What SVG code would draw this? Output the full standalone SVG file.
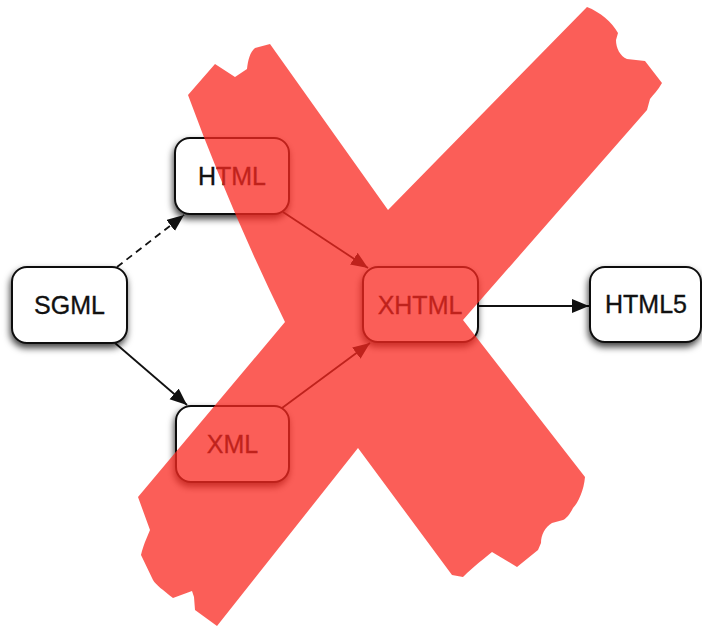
<svg xmlns="http://www.w3.org/2000/svg" width="702" height="626" viewBox="0 0 702 626">
  <style>
    .box { fill: #ffffff; stroke: #111111; stroke-width: 2; filter: url(#shadow); }
    .label { font-family: "Liberation Sans", Arial, sans-serif; font-size: 25px; fill: #111111; stroke: #111111; stroke-width: 0.35; text-anchor: middle; }
    .edge { stroke: #111111; stroke-width: 1.8; fill: none; marker-end: url(#arrow); }
    .dashed { stroke-dasharray: 7 5; }
    .cross { fill: #fa2820; fill-opacity: 0.75; }
  </style>
  <defs>
    <filter id="shadow" x="-30%" y="-30%" width="160%" height="170%">
      <feDropShadow dx="-1" dy="4" stdDeviation="3.5" flood-color="#000000" flood-opacity="0.75"/>
    </filter>
    <marker id="arrow" markerWidth="18" markerHeight="15" refX="17" refY="7" orient="auto" markerUnits="userSpaceOnUse">
      <path d="M0,0 L17,7 L0,14 Z" fill="#111111"/>
    </marker>
  </defs>

  <g id="connectors">
    <line class="edge dashed" x1="117" y1="267" x2="184" y2="215"/>
    <line class="edge" x1="115" y1="343" x2="187" y2="405"/>
    <line class="edge" x1="283" y1="212" x2="368" y2="268"/>
    <line class="edge" x1="282" y1="408" x2="370" y2="343"/>
    <line class="edge" x1="478" y1="306" x2="589" y2="306"/>
  </g>

  <g id="node-sgml">
    <rect class="box" x="12" y="267" width="115" height="76" rx="15"/>
    <text class="label" x="69.5" y="314">SGML</text>
  </g>
  <g id="node-html">
    <rect class="box" x="175" y="138" width="114" height="76" rx="15"/>
    <text class="label" x="232" y="185">HTML</text>
  </g>
  <g id="node-xml">
    <rect class="box" x="176" y="406" width="113" height="76" rx="15"/>
    <text class="label" x="232.5" y="453">XML</text>
  </g>
  <g id="node-xhtml">
    <rect class="box" x="363" y="267" width="115" height="75" rx="15"/>
    <text class="label" x="420" y="314">XHTML</text>
  </g>
  <g id="node-html5">
    <rect class="box" x="590" y="267" width="111" height="75" rx="15"/>
    <text class="label" x="646" y="313">HTML5</text>
  </g>

  <path class="cross" d="M188,95 L215,64 L235,77 L247,69 C248,60 250,52 255,48 L270,44 L388,210 L587,7 C600,12 612,22 618,33 L616,40 C616,48 620,56 627,59 L645,61 L662,83 C658,90 653,95 650,99 L647,110 L463,320 L585,477 C584,490 578,503 573,508 C570,514 566,519 563,520 L552,523 C545,527 541,535 541,543 L538,550 L517,567 L492,552 C485,558 475,565 463,577 L452,575 L358,448 L217,626 L195,610 L194,597 L192,591 L173,598 C163,590 156,585 153,580 L141,555 C142,550 144,545 145,542 L150,530 L138,497 L285,322 Q231,212 188,95 Z"/>
</svg>
